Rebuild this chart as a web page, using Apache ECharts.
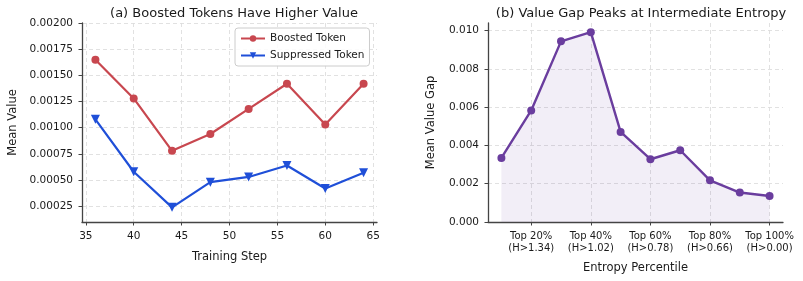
<!DOCTYPE html>
<html>
<head>
<meta charset="utf-8">
<script src="https://cdn.jsdelivr.net/npm/echarts@6/dist/echarts.min.js"></script>
<style>
  html, body { margin: 0; padding: 0; background: #fff; }
  #chart { width: 803px; height: 281px; }
</style>
</head>
<body>
<div id="chart"></div>
<script>
// panel (a)
var steps = [36, 40, 44, 48, 52, 56, 60, 64];
var boosted = [0.00165, 0.00128, 0.00078, 0.00094, 0.00118, 0.00142, 0.00103, 0.00142];
var suppressed = [0.00108, 0.00058, 0.00024, 0.00048, 0.00053, 0.00064, 0.00042, 0.00057];
var stepTicks = [35, 40, 45, 50, 55, 60, 65];
var valueTicks = [0.00025, 0.0005, 0.00075, 0.001, 0.00125, 0.0015, 0.00175, 0.002];

// panel (b)
var percentileIdx = [0, 1, 2, 3, 4, 5, 6, 7, 8, 9];
var valueGap = [0.00335, 0.00583, 0.00944, 0.00992, 0.00471, 0.00328, 0.00375, 0.00218, 0.00154, 0.00136];
var percentileTicks = [1, 3, 5, 7, 9];
var percentileLabels = ['Top 20%\n(H>1.34)', 'Top 40%\n(H>1.02)', 'Top 60%\n(H>0.78)', 'Top 80%\n(H>0.66)', 'Top 100%\n(H>0.00)'];
var gapTicks = [0, 0.002, 0.004, 0.006, 0.008, 0.01];

var FONT = 'DejaVu Sans';
var TXT = '#1a1a1a';
var SPINE = '#444';

function zip(xs, ys) {
    return xs.map(function (x, i) { return [x, ys[i]]; });
}

var gridLine = { show: true, lineStyle: { color: '#dedede', type: [4, 3], width: 0.9 } };
var spine = { show: true, onZero: false, lineStyle: { color: SPINE, width: 1.3 } };
var tick = { show: true, length: 3.5, lineStyle: { color: SPINE, width: 1 } };

var chart = echarts.init(document.getElementById('chart'));

chart.setOption({
    animation: false,
    textStyle: { fontFamily: FONT, color: TXT },
    title: [
        { text: '(a) Boosted Tokens Have Higher Value', left: 229, top: 2, textAlign: 'center',
          textStyle: { fontFamily: FONT, fontSize: 13, fontWeight: 'normal', color: TXT } },
        { text: '(b) Value Gap Peaks at Intermediate Entropy', left: 636, top: 2, textAlign: 'center',
          textStyle: { fontFamily: FONT, fontSize: 13, fontWeight: 'normal', color: TXT } }
    ],
    legend: {
        data: ['Boosted Token', 'Suppressed Token'],
        orient: 'vertical',
        left: 235, top: 28,
        padding: [5, 5, 5, 5],
        itemWidth: 24, itemHeight: 8, itemGap: 6,
        backgroundColor: 'rgba(255,255,255,0.85)',
        borderColor: '#cccccc', borderWidth: 1, borderRadius: 3,
        textStyle: { fontFamily: FONT, fontSize: 10.5, color: TXT }
    },
    grid: [
        { left: 82, top: 23, right: 426, bottom: 59 },
        { left: 488, top: 23, right: 20, bottom: 59 }
    ],
    xAxis: [
        {
            gridIndex: 0, type: 'value', min: 34.6, max: 65.4,
            name: 'Training Step', nameLocation: 'middle', nameGap: 29,
            nameTextStyle: { fontFamily: FONT, fontSize: 11.5, color: TXT },
            axisLine: spine,
            axisTick: Object.assign({ customValues: stepTicks }, tick),
            axisLabel: { customValues: stepTicks, margin: 9, fontFamily: FONT, fontSize: 10.5, color: TXT },
            splitLine: gridLine
        },
        {
            gridIndex: 1, type: 'value', min: -0.45, max: 9.45,
            name: 'Entropy Percentile', nameLocation: 'middle', nameGap: 40,
            nameTextStyle: { fontFamily: FONT, fontSize: 11.5, color: TXT },
            axisLine: spine,
            axisTick: Object.assign({ customValues: percentileTicks }, tick),
            axisLabel: {
                customValues: percentileTicks, margin: 9, fontFamily: FONT, fontSize: 10,
                color: TXT, lineHeight: 11.5,
                formatter: function (v) { return percentileLabels[percentileTicks.indexOf(Math.round(v))] || ''; }
            },
            splitLine: gridLine
        }
    ],
    yAxis: [
        {
            gridIndex: 0, type: 'value', min: 0.0001, max: 0.002,
            name: 'Mean Value', nameLocation: 'middle', nameGap: 63,
            nameTextStyle: { fontFamily: FONT, fontSize: 11.5, color: TXT },
            axisLine: spine,
            axisTick: Object.assign({ customValues: valueTicks }, tick),
            axisLabel: {
                customValues: valueTicks, margin: 9, fontFamily: FONT, fontSize: 10.5, color: TXT,
                formatter: function (v) { return v.toFixed(5); }
            },
            splitLine: gridLine
        },
        {
            gridIndex: 1, type: 'value', min: 0, max: 0.0104,
            name: 'Mean Value Gap', nameLocation: 'middle', nameGap: 51,
            nameTextStyle: { fontFamily: FONT, fontSize: 11.5, color: TXT },
            axisLine: spine,
            axisTick: Object.assign({ customValues: gapTicks }, tick),
            axisLabel: {
                customValues: gapTicks, margin: 9, fontFamily: FONT, fontSize: 10.5, color: TXT,
                formatter: function (v) { return v.toFixed(3); }
            },
            splitLine: gridLine
        }
    ],
    series: [
        {
            name: 'Boosted Token', type: 'line', xAxisIndex: 0, yAxisIndex: 0,
            data: zip(steps, boosted),
            symbol: 'circle', symbolSize: 8,
            lineStyle: { color: '#c8474f', width: 2.2 },
            itemStyle: { color: '#c8474f' }
        },
        {
            name: 'Suppressed Token', type: 'line', xAxisIndex: 0, yAxisIndex: 0,
            data: zip(steps, suppressed),
            symbol: 'triangle', symbolRotate: 180, symbolSize: 9,
            lineStyle: { color: '#1f4fd8', width: 2.2 },
            itemStyle: { color: '#1f4fd8' }
        },
        {
            name: 'Value Gap', type: 'line', xAxisIndex: 1, yAxisIndex: 1,
            data: zip(percentileIdx, valueGap),
            symbol: 'circle', symbolSize: 8,
            lineStyle: { color: '#6a3d9e', width: 2.4 },
            itemStyle: { color: '#6a3d9e' },
            areaStyle: { color: 'rgba(106,61,158,0.12)' }
        }
    ]
});
</script>
</body>
</html>
